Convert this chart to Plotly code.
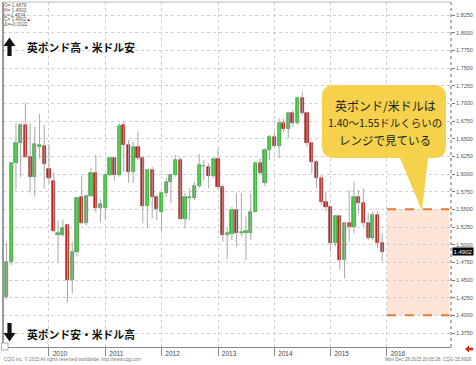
import plotly.graph_objects as go
import pandas as pd

# ---------------- data (GBP/USD monthly, Apr 2009 - Dec 2015) ----------------
months = pd.date_range("2009-04-01", "2015-12-01", freq="MS")
open_ = [1.4264, 1.4759, 1.6151, 1.6434, 1.6693, 1.6245, 1.5953, 1.6387, 1.6396,
         1.6076, 1.5906, 1.5137, 1.5137, 1.5283, 1.4500, 1.4901, 1.5679, 1.5302, 1.5689, 1.6010, 1.5524,
         1.5524, 1.5981, 1.6231, 1.5986, 1.6690, 1.6410, 1.6033, 1.6386, 1.6222, 1.5552, 1.6057, 1.5670,
         1.5458, 1.5727, 1.5882, 1.5986, 1.6198, 1.5368, 1.5660, 1.5656, 1.5835, 1.6113, 1.6094, 1.5977,
         1.6212, 1.5821, 1.5132, 1.5146, 1.5496, 1.5165, 1.5170, 1.5160, 1.5467, 1.6151, 1.5868, 1.6340,
         1.6528, 1.6396, 1.6717, 1.6632, 1.6859, 1.6717, 1.7080, 1.6859, 1.6434, 1.6175, 1.5939, 1.5609,
         1.5538, 1.5028, 1.5406, 1.4783, 1.5311, 1.5255, 1.5679, 1.5585, 1.5302, 1.5090, 1.5420, 1.5019]
high = [1.5028, 1.6175, 1.6717, 1.6717, 1.7014, 1.6717, 1.6670, 1.6849, 1.6693,
        1.6425, 1.6033, 1.5340, 1.5359, 1.5300, 1.5043, 1.5679, 1.5972, 1.5710, 1.6090, 1.6269, 1.5642,
        1.6010, 1.6245, 1.6240, 1.6717, 1.6740, 1.6481, 1.6457, 1.6600, 1.6240, 1.6070, 1.6104, 1.5700,
        1.5745, 1.5953, 1.6010, 1.6269, 1.6240, 1.5736, 1.5797, 1.5892, 1.6283, 1.6198, 1.6151, 1.6236,
        1.6354, 1.5850, 1.5236, 1.5538, 1.5727, 1.5727, 1.5396, 1.5726, 1.6175, 1.6222, 1.6363, 1.6552,
        1.6599, 1.6788, 1.6788, 1.6882, 1.6906, 1.7094, 1.7165, 1.6882, 1.6458, 1.6198, 1.5986, 1.5750,
        1.5538, 1.5420, 1.5420, 1.5325, 1.5774, 1.5892, 1.5774, 1.5797, 1.5443, 1.5467, 1.5467, 1.5160]
low = [1.4226, 1.4712, 1.5774, 1.5953, 1.6222, 1.5736, 1.5679, 1.6222, 1.5797,
       1.5877, 1.5180, 1.4745, 1.5113, 1.4184, 1.4311, 1.4830, 1.5290, 1.5269, 1.5679, 1.5453, 1.5311,
       1.5359, 1.5962, 1.5906, 1.5962, 1.6033, 1.5877, 1.5870, 1.6190, 1.5302, 1.5231, 1.5373, 1.5349,
       1.5198, 1.5679, 1.5585, 1.5962, 1.5349, 1.5231, 1.5349, 1.5632, 1.5800, 1.5915, 1.5797, 1.5939,
       1.5780, 1.5043, 1.4793, 1.5066, 1.4972, 1.5125, 1.4783, 1.5066, 1.5467, 1.5986, 1.5821, 1.6198,
       1.6377, 1.6222, 1.6599, 1.6505, 1.6670, 1.6693, 1.6835, 1.6387, 1.6010, 1.5797, 1.5561, 1.5467,
       1.4901, 1.4972, 1.4642, 1.4524, 1.5042, 1.5160, 1.5443, 1.5255, 1.5066, 1.5066, 1.4948, 1.4760]
close = [1.4759, 1.6151, 1.6434, 1.6693, 1.6245, 1.5953, 1.6420, 1.6410, 1.6137,
         1.5948, 1.5198, 1.5160, 1.5231, 1.4500, 1.4901, 1.5665, 1.5302, 1.5689, 1.6010, 1.5524, 1.5576,
         1.5981, 1.6231, 1.5986, 1.6684, 1.6410, 1.6033, 1.6386, 1.6222, 1.5552, 1.6057, 1.5670, 1.5510,
         1.5727, 1.5882, 1.5986, 1.6198, 1.5368, 1.5675, 1.5670, 1.5835, 1.6127, 1.6120, 1.5977, 1.6212,
         1.5821, 1.5132, 1.5170, 1.5496, 1.5160, 1.5180, 1.5200, 1.5467, 1.6151, 1.6010, 1.6340, 1.6528,
         1.6396, 1.6717, 1.6632, 1.6859, 1.6717, 1.7080, 1.6859, 1.6434, 1.6175, 1.5939, 1.5609, 1.5538,
         1.5028, 1.5406, 1.4783, 1.5311, 1.5255, 1.5679, 1.5585, 1.5302, 1.5090, 1.5420, 1.5019, 1.4902]

year_ticks = ["2010-01-01", "2011-01-01", "2012-01-01", "2013-01-01",
              "2014-01-01", "2015-01-01", "2016-01-01"]
year_labels = ["2010", "2011", "2012", "2013", "2014", "2015", "2016"]
price_ticks = [1.375 + 0.025 * i for i in range(19)]
last_price = 1.4902
range_low, range_high = 1.40, 1.55
range_start, range_end = "2016-01-01", "2017-02-06"

# ---------------- styling helpers ----------------
PL, PR, PT, PB = 3, 451, 2, 347   # plot area in pixels
def px(x):
    return (x - PL) / (PR - PL)
def py(y):
    return (PB - y) / (PB - PT)

GREEN, GREEN_EDGE = "#38CA38", "#1E8E1E"
RED, RED_EDGE = "#CC2420", "#8E1512"
JP = "Noto Sans CJK JP"

fig = go.Figure()

# wicks
wx, wy = [], []
for d, h, l in zip(months, high, low):
    wx += [d, d, None]
    wy += [l, h, None]
fig.add_trace(go.Scatter(x=wx, y=wy, mode="lines", line=dict(color="#A8A8A8", width=1),
                         hoverinfo="skip", showlegend=False))

# bodies
base = [min(o, c) for o, c in zip(open_, close)]
size = [abs(c - o) for o, c in zip(open_, close)]
col = [GREEN if c >= o else RED for o, c in zip(open_, close)]
edge = [GREEN_EDGE if c >= o else RED_EDGE for o, c in zip(open_, close)]
fig.add_trace(go.Bar(x=months, y=size, base=base, width=21 * 86400000,
                     marker=dict(color=col, line=dict(color=edge, width=0.6)),
                     showlegend=False))

shapes = []
# shaded expected range
shapes.append(dict(type="rect", xref="x", yref="y", x0=range_start, x1=range_end,
                   y0=range_low, y1=range_high, fillcolor="#FCE4D6", line=dict(width=0),
                   layer="below"))
for yv in (range_low, range_high):
    shapes.append(dict(type="line", xref="x", yref="y", x0=range_start, x1=range_end,
                       y0=yv, y1=yv, line=dict(color="#EE7A2C", width=2, dash="dash")))
# borders
shapes.append(dict(type="line", xref="paper", yref="paper", x0=0, x1=0, y0=0, y1=1,
                   line=dict(color="#777777", width=1.5)))
shapes.append(dict(type="line", xref="paper", yref="paper", x0=1, x1=1, y0=0, y1=1,
                   line=dict(color="#666666", width=1, dash="dot")))
shapes.append(dict(type="line", xref="paper", yref="paper", x0=0, x1=1, y0=1, y1=1,
                   line=dict(color="#BBBBBB", width=1)))

def path(points, close_=True):
    s = "M " + " L ".join(f"{px(x):.5f},{py(y):.5f}" for x, y in points)
    return s + (" Z" if close_ else "")

# up / down arrows
up = [(3.5, 46), (9.5, 37.5), (15.5, 46), (11.6, 46), (11.6, 56), (7.4, 56), (7.4, 46)]
down = [(3.5, 333), (9.5, 341.5), (15.5, 333), (11.6, 333), (11.6, 323), (7.4, 323), (7.4, 333)]
for pts in (up, down):
    shapes.append(dict(type="path", xref="paper", yref="paper", path=path(pts),
                       fillcolor="#111111", line=dict(width=0)))

# callout bubble with pointer
bx0, bx1, by0, by1, r = 322, 446, 85, 158, 12
def P(x, y):
    return f"{px(x):.5f},{py(y):.5f}"
bubble = (f"M {P(bx0 + r, by0)} L {P(bx1 - r, by0)} Q {P(bx1, by0)} {P(bx1, by0 + r)} "
          f"L {P(bx1, by1 - r)} Q {P(bx1, by1)} {P(bx1 - r, by1)} "
          f"L {P(428, by1)} L {P(422, 211)} L {P(400, by1)} "
          f"L {P(bx0 + r, by1)} Q {P(bx0, by1)} {P(bx0, by1 - r)} "
          f"L {P(bx0, by0 + r)} Q {P(bx0, by0)} {P(bx0 + r, by0)} Z")
shapes.append(dict(type="path", xref="paper", yref="paper", path=bubble,
                   fillcolor="#F6D24C", line=dict(width=0)))

# small box bottom-left & red arrow bottom-right
shapes.append(dict(type="rect", xref="paper", yref="paper", x0=px(1.5), x1=px(8), y0=py(350),
                   y1=py(343), fillcolor="white", line=dict(color="#999999", width=0.8)))
shapes.append(dict(type="path", xref="paper", yref="paper",
                   path=path([(465, 349), (469, 345.5), (469, 347.8), (473, 347.8),
                              (473, 350.2), (469, 350.2), (469, 352.5)]),
                   fillcolor="#E0201A", line=dict(width=0)))

ann = []
def text(x, y, t, size, color="#111", anchor="left", family=JP, weight="normal"):
    ann.append(dict(xref="paper", yref="paper", x=px(x), y=py(y), text=t, showarrow=False,
                    xanchor=anchor, yanchor="middle",
                    font=dict(family=family, size=size, color=color, weight=weight)))

text(25, 47, "英ポンド高・米ドル安", 10.8, weight="bold")
text(25, 334, "英ポンド安・米ドル高", 10.8, weight="bold")
text(385, 105, "英ポンド/米ドルは", 12, color="#222", anchor="center")
text(385, 122, "1.40～1.55ドルくらいの", 10.5, color="#222", anchor="center")
text(385, 140, "レンジで見ている", 11.5, color="#222", anchor="center")

legend_lines = ["O= 1.4879", "H= 1.4903", "L= 1.4874", "C= 1.4902▲", "Δ=+0.0022"]
for i, t in enumerate(legend_lines):
    text(2, 5.5 + 4.8 * i, t, 4.8, color="#555", family="Arial")

text(2, 358.5, "CQG Inc. © 2015 All rights reserved worldwide. http://www.cqg.com", 4.6,
     color="#777", family="Arial")
text(474, 359, "Mon Dec 28 2015 20:05:28, CQG 15.9928", 4.6, color="#777",
     anchor="right", family="Arial")

ann.append(dict(xref="paper", yref="y", x=px(452), y=last_price, text=f"{last_price:.4f}",
                showarrow=False, xanchor="left", yanchor="middle", bgcolor="#000000",
                borderpad=0.5, font=dict(family="Arial", size=6, color="white")))

fig.update_layout(
    width=476, height=365,
    margin=dict(l=PL, r=476 - PR, t=PT, b=365 - PB, autoexpand=False),
    paper_bgcolor="white", plot_bgcolor="white",
    showlegend=False, bargap=0,
    shapes=shapes, annotations=ann,
    xaxis=dict(type="date", range=["2009-03-09", "2017-02-19"], automargin=False,
               tickvals=year_ticks, ticktext=year_labels,
               ticks="", ticklabelshift=11,
               tickfont=dict(family="Arial", size=6.5, color="#444"),
               minor=dict(tickmode="array", tickvals=year_ticks, ticks="outside",
                          ticklen=8, tickcolor="#888888", showgrid=False),
               showgrid=True, gridcolor="#CFCFCF", griddash="dot", gridwidth=1,
               showline=True, linecolor="#888888", linewidth=1, zeroline=False),
    yaxis=dict(side="right", range=[1.3552, 1.8434], tickvals=price_ticks, automargin=False,
               tickformat=".4f", ticks="outside", ticklen=3, tickcolor="#777",
               tickfont=dict(family="Arial", size=5.5, color="#555"),
               showgrid=True, gridcolor="#CFCFCF", griddash="dot", gridwidth=1,
               zeroline=False, showline=False),
)

fig.write_html("out.html", config={"displayModeBar": False},
               post_script="document.body.style.margin='0';document.body.style.padding='0';")
